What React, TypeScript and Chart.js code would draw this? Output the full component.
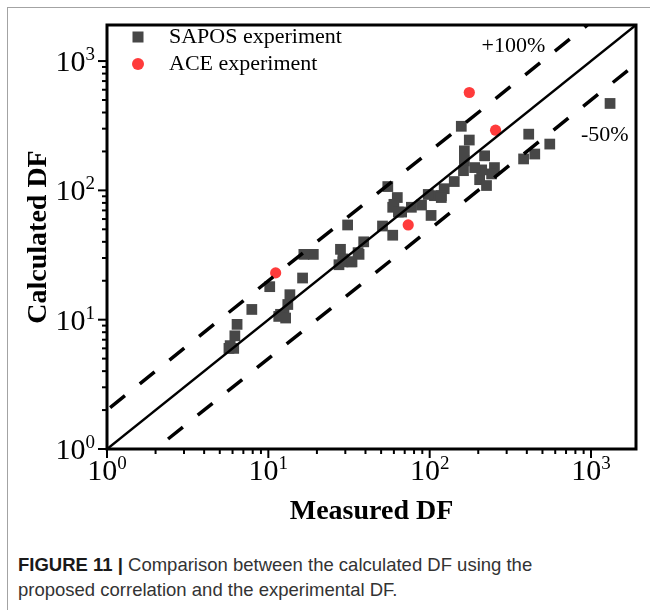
import React, { useEffect, useRef } from "react";
import { Chart, registerables } from "chart.js";

Chart.register(...registerables);

// ---------------- data ----------------
const AXIS_MIN = 1;
const AXIS_MAX = 1900;
const DECADES = [1, 10, 100, 1000];
const DECADE_BASE = "10";
const DECADE_EXPONENTS = ["0", "1", "2", "3"];
const MINOR_MULTIPLIERS = [2, 3, 4, 5, 6, 7, 8, 9];

const X_TITLE = "Measured DF";
const Y_TITLE = "Calculated DF";

const SAPOS_LABEL = "SAPOS experiment";
const SAPOS_X = [
  1312, 411, 555, 448, 382, 252, 242, 219, 204, 225, 210, 176, 157, 164, 164, 190, 162, 142, 123, 118,
  107, 118, 98, 89, 102, 55, 63, 60, 59, 64, 67, 77, 51, 59, 31, 39, 36, 32.5, 28, 29,
  27.4, 29, 33, 36.5, 19, 16.6, 16.3, 13.6, 13.2, 12.5, 11.9, 11.6, 12.8, 10.2, 7.9, 6.4, 6.2, 5.8, 5.7, 6.1,
];
const SAPOS_Y = [
  470, 272, 228, 191, 175, 150, 134, 185, 121, 109, 144, 245, 313, 202, 169, 150, 142, 117, 103, 91,
  91, 88, 93, 77, 64, 107, 88, 78, 74, 68, 68, 74, 53, 45, 54, 40, 33, 28, 35, 29.5,
  26.6, 28, 28, 32, 32, 32, 21, 15.6, 13.1, 11, 11, 10.6, 10.3, 18, 12, 9.2, 7.5, 6.3, 6.0, 6.0,
];

const ACE_LABEL = "ACE experiment";
const ACE_X = [176, 256, 73.6, 11.1];
const ACE_Y = [571, 292, 54, 23];

const PARITY_X = [1, 1900];
const PARITY_Y = [1, 1900];
const PLUS100_X = [1, 950];
const PLUS100_Y = [2, 1900];
const MINUS50_X = [2, 1900];
const MINUS50_Y = [1, 950];

const NOTE_TEXTS = ["+100%", "-50%"];
const NOTE_X = [330, 1216];
const NOTE_Y = [1292, 269];

// ---------------- styles ----------------
const SERIF = "'Liberation Serif', 'Times New Roman', serif";
const SAPOS_COLOR = "#474747";
const ACE_COLOR = "#ff3b3b";

const TICK_VALUES: number[] = [];
DECADES.forEach((d) => {
  TICK_VALUES.push(d);
  MINOR_MULTIPLIERS.forEach((m) => {
    if (d * m <= AXIS_MAX) TICK_VALUES.push(d * m);
  });
});
TICK_VALUES.sort((a, b) => a - b);

const isDecade = (v: number) => DECADES.indexOf(v) >= 0;

const pairs = (xs: number[], ys: number[]) => xs.map((x, i) => ({ x, y: ys[i] }));

const decorPlugin = {
  id: "decor",
  afterDatasetsDraw(chart: any) {
    const { ctx, chartArea: a } = chart;
    const xs = chart.scales.x;
    const ys = chart.scales.y;
    ctx.save();

    // annotation texts
    ctx.fillStyle = "#000";
    ctx.font = `22px ${SERIF}`;
    ctx.textAlign = "center";
    ctx.textBaseline = "middle";
    NOTE_TEXTS.forEach((t, i) => {
      ctx.fillText(t, xs.getPixelForValue(NOTE_X[i]), ys.getPixelForValue(NOTE_Y[i]));
    });

    // frame
    ctx.strokeStyle = "#000";
    ctx.lineWidth = 3;
    ctx.strokeRect(a.left, a.top, a.right - a.left, a.bottom - a.top);

    // ticks
    ctx.lineWidth = 2;
    xs.ticks.forEach((t: any) => {
      const px = xs.getPixelForValue(t.value);
      const len = isDecade(t.value) ? 9 : 5;
      ctx.beginPath();
      ctx.moveTo(px, a.bottom);
      ctx.lineTo(px, a.bottom + len);
      ctx.stroke();
    });
    ys.ticks.forEach((t: any) => {
      const py = ys.getPixelForValue(t.value);
      const len = isDecade(t.value) ? 9 : 5;
      ctx.beginPath();
      ctx.moveTo(a.left, py);
      ctx.lineTo(a.left - len, py);
      ctx.stroke();
    });

    // tick labels (10 with superscript exponent)
    const baseFont = `30px ${SERIF}`;
    const supFont = `19px ${SERIF}`;
    ctx.textAlign = "left";
    ctx.textBaseline = "alphabetic";
    DECADES.forEach((d, i) => {
      const exp = DECADE_EXPONENTS[i];
      ctx.font = baseFont;
      const wb = ctx.measureText(DECADE_BASE).width;
      ctx.font = supFont;
      const ws = ctx.measureText(exp).width;
      // x axis
      const px = xs.getPixelForValue(d);
      const sx = px - (wb + ws) / 2;
      const bx = a.bottom + 31;
      ctx.font = baseFont;
      ctx.fillText(DECADE_BASE, sx, bx);
      ctx.font = supFont;
      ctx.fillText(exp, sx + wb, bx - 11);
      // y axis
      const py = ys.getPixelForValue(d);
      const ex = a.left - 12;
      const by = py + 10;
      ctx.font = baseFont;
      ctx.fillText(DECADE_BASE, ex - wb - ws, by);
      ctx.font = supFont;
      ctx.fillText(exp, ex - ws, by - 11);
    });

    // legend
    ctx.font = `22px ${SERIF}`;
    ctx.textBaseline = "middle";
    ctx.fillStyle = SAPOS_COLOR;
    const s = 11;
    const lx = a.left + 31;
    ctx.fillRect(lx - s / 2, a.top + 12 - s / 2, s, s);
    ctx.fillStyle = ACE_COLOR;
    ctx.beginPath();
    ctx.arc(lx, a.top + 39, 6, 0, Math.PI * 2);
    ctx.fill();
    ctx.fillStyle = "#000";
    ctx.fillText(SAPOS_LABEL, a.left + 62, a.top + 12);
    ctx.fillText(ACE_LABEL, a.left + 62, a.top + 39);

    ctx.restore();
  },
};

export default function App() {
  const ref = useRef<HTMLCanvasElement | null>(null);

  useEffect(() => {
    const canvas = ref.current;
    if (!canvas) return;
    const chart = new Chart(canvas, {
      type: "scatter",
      data: {
        datasets: [
          {
            label: "parity",
            data: pairs(PARITY_X, PARITY_Y),
            showLine: true,
            borderColor: "#000",
            borderWidth: 2.5,
            pointRadius: 0,
            order: 0,
          } as any,
          {
            label: "+100%",
            data: pairs(PLUS100_X, PLUS100_Y),
            showLine: true,
            borderColor: "#000",
            borderWidth: 3.5,
            borderDash: [19, 19],
            borderDashOffset: 34,
            pointRadius: 0,
            order: 0,
          } as any,
          {
            label: "-50%",
            data: pairs(MINUS50_X, MINUS50_Y),
            showLine: true,
            borderColor: "#000",
            borderWidth: 3.5,
            borderDash: [19, 19],
            borderDashOffset: 22,
            pointRadius: 0,
            order: 0,
          } as any,
          {
            label: ACE_LABEL,
            data: pairs(ACE_X, ACE_Y),
            backgroundColor: ACE_COLOR,
            borderWidth: 0,
            pointStyle: "circle",
            pointRadius: 5.6,
            order: 1,
          } as any,
          {
            label: SAPOS_LABEL,
            data: pairs(SAPOS_X, SAPOS_Y),
            backgroundColor: SAPOS_COLOR,
            borderWidth: 0,
            pointStyle: "rect",
            pointRadius: 7.6,
            order: 2,
          } as any,
        ],
      },
      options: {
        responsive: false,
        animation: false,
        devicePixelRatio: 1,
        events: [],
        layout: { padding: { left: 0, top: 25, right: 14, bottom: 0 } },
        plugins: {
          legend: { display: false },
          tooltip: { enabled: false },
        },
        scales: {
          x: {
            type: "logarithmic",
            position: "bottom",
            min: AXIS_MIN,
            max: AXIS_MAX,
            afterBuildTicks: (sc: any) => {
              sc.ticks = TICK_VALUES.map((v) => ({ value: v, major: isDecade(v) }));
            },
            afterFit: (sc: any) => {
              sc.height = 91;
            },
            ticks: { display: false },
            grid: { display: false },
            border: { display: false },
            title: {
              display: true,
              text: X_TITLE,
              color: "#000",
              font: { family: SERIF, size: 28, weight: "bold" },
              padding: { top: 0, bottom: 11 },
            },
          },
          y: {
            type: "logarithmic",
            position: "left",
            min: AXIS_MIN,
            max: AXIS_MAX,
            afterBuildTicks: (sc: any) => {
              sc.ticks = TICK_VALUES.map((v) => ({ value: v, major: isDecade(v) }));
            },
            afterFit: (sc: any) => {
              sc.width = 107;
            },
            ticks: { display: false },
            grid: { display: false },
            border: { display: false },
            title: {
              display: true,
              text: Y_TITLE,
              color: "#000",
              font: { family: SERIF, size: 28, weight: "bold" },
              padding: { top: 22, bottom: 0 },
            },
          },
        },
      } as any,
      plugins: [decorPlugin],
    });
    return () => chart.destroy();
  }, []);

  return (
    <div
      style={{
        position: "absolute",
        left: 0,
        top: 0,
        width: 650,
        height: 610,
        background: "#fff",
        overflow: "hidden",
      }}
    >
      <div
        style={{
          position: "absolute",
          left: 7,
          top: 7,
          width: 660,
          height: 620,
          borderTop: "1px solid #a3a3a3",
          borderLeft: "1px solid #a3a3a3",
        }}
      />
      <canvas
        ref={ref}
        width={650}
        height={540}
        style={{ position: "absolute", left: 0, top: 0, width: 650, height: 540 }}
      />
      <div
        style={{
          position: "absolute",
          left: 18,
          top: 552,
          fontFamily: "'Liberation Sans', Arial, sans-serif",
          fontSize: 18.5,
          lineHeight: "25px",
          color: "#333",
          whiteSpace: "nowrap",
        }}
      >
        <b style={{ color: "#1a1a1a" }}>FIGURE 11 |</b> Comparison between the calculated DF using the
        <br />
        proposed correlation and the experimental DF.
      </div>
    </div>
  );
}
